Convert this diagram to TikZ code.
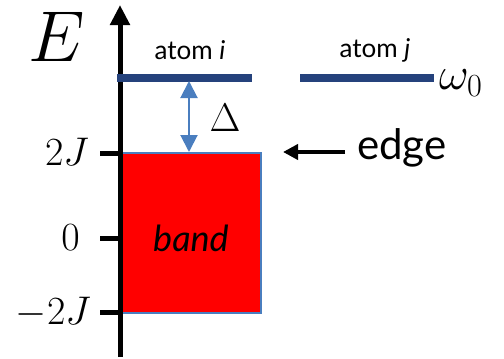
\documentclass[tikz,border=0pt]{standalone}
\usepackage{fix-cm}
\usepackage{fontspec}
\setsansfont{Lato}
\usetikzlibrary{arrows.meta}
\definecolor{navy}{HTML}{25427C}
\definecolor{steel}{HTML}{4A7EBF}
\definecolor{bandred}{HTML}{FF0000}
\tikzset{
  lbl/.style={inner sep=0pt, font=\fontsize{40}{40}\selectfont},
  sans/.style={inner sep=0pt, font=\sffamily\fontsize{#1}{#1}\selectfont},
  tick/.style={line width=5pt},
  level/.style={navy, line width=8pt},
}
\begin{document}
\begin{tikzpicture}[x=1pt,y=-1pt]
\useasboundingbox (0,0) rectangle (504,359);
% band
\node[draw=steel, line width=1.5pt, fill=bandred, minimum width=139pt, minimum height=160pt, inner sep=0pt, anchor=north west] (band) at (121,152) {};
\node[sans=36] (bandtxt) at (191,238) {\itshape band};
% axis
\coordinate (ab) at (120,357);
\coordinate (at) at (120,5);
\draw[line width=5pt, -{Triangle[length=20pt,width=19pt]}] (ab) -- (at);
% ticks
\coordinate (t1) at (100,153); \coordinate (t1e) at (120,153);
\coordinate (t2) at (100,238); \coordinate (t2e) at (120,238);
\coordinate (t3) at (100,312); \coordinate (t3e) at (120,312);
\draw[tick] (t1) -- (t1e);
\draw[tick] (t2) -- (t2e);
\draw[tick] (t3) -- (t3e);
\node[lbl, anchor=east] (l1) at (89,152) {$2J$};
\node[lbl, anchor=east] (l2) at (80,238) {$0$};
\node[lbl, anchor=east] (l3) at (91,312) {$-2J$};
\node[inner sep=0pt, font=\fontsize{72}{72}\selectfont] (E) at (57,37) {$E$};
% levels
\coordinate (ai1) at (117,78); \coordinate (ai2) at (252,78);
\coordinate (aj1) at (300,78); \coordinate (aj2) at (434,78);
\draw[level] (ai1) -- (ai2);
\draw[level] (aj1) -- (aj2);
\node[sans=26] (atomi) at (190,50) {atom \textit{i}};
\node[sans=26] (atomj) at (375,50) {atom \textit{j}};
\node[inner sep=0pt, font=\fontsize{46}{46}\selectfont, anchor=west] (w0) at (439,83) {$\omega_0$};
% Delta
\coordinate (d1) at (189,81); \coordinate (d2) at (189,152);
\draw[steel, line width=2pt, {Triangle[length=17pt,width=17pt]}-{Triangle[length=17pt,width=17pt]}] (d1) -- (d2);
\node[lbl] (delta) at (225,118) {$\Delta$};
% edge
\node[sans=42, anchor=west] (edge) at (357,148) {edge};
\coordinate (ea) at (283,152);
\draw[line width=4pt, -{Triangle[length=15pt,width=15pt]}] (edge.west) ++(-12,4) -- (ea);
\end{tikzpicture}
\end{document}
